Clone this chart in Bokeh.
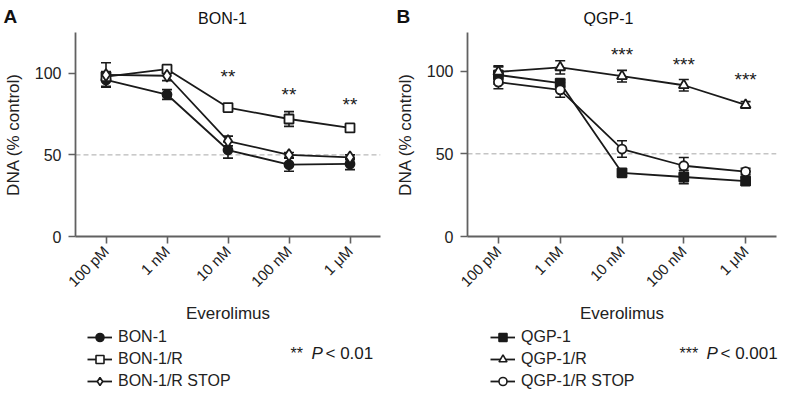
import math
from bokeh.plotting import figure
from bokeh.models import (Range1d, FixedTicker, Whisker, ColumnDataSource, Span,
                          Label, Legend, LegendItem, TeeHead)
from bokeh.layouts import row, column
from bokeh.embed import file_html
from bokeh.resources import INLINE

# ---------------- data ----------------
conc_labels = ["100 pM", "1 nM", "10 nM", "100 nM", "1 μM"]
x_pos = [0, 1, 2, 3, 4]

# Panel A: BON-1
bon1 = [96.0, 87.0, 53.0, 44.0, 44.5]
bon1_err = [4.0, 3.0, 5.0, 4.0, 3.5]
bon1_r = [98.0, 102.5, 79.0, 72.0, 66.5]
bon1_r_err = [3.0, 2.0, 2.0, 4.5, 1.5]
bon1_r_stop = [99.0, 98.5, 58.5, 50.0, 48.5]
bon1_r_stop_err = [7.5, 3.0, 3.0, 1.5, 1.5]
stars_a_x = [2, 3, 4]
stars_a_y = [101, 90, 84]

# Panel B: QGP-1
qgp1 = [97.7, 92.8, 38.5, 36.0, 33.5]
qgp1_err = [5.5, 2.0, 1.5, 4.0, 2.5]
qgp1_r = [99.6, 102.3, 97.0, 91.5, 79.6]
qgp1_r_err = [3.0, 4.0, 3.5, 3.5, 2.0]
qgp1_r_stop = [93.4, 88.7, 52.9, 42.8, 39.3]
qgp1_r_stop_err = [4.0, 4.5, 5.0, 5.0, 2.0]
stars_b_x = [2, 3, 4]
stars_b_y = [113, 107, 98]

FONT = "Liberation Sans"
INK = "#1a1a1a"
AXIS = "#616161"
TOTAL_W = 778
HEAD_H = 26
MAIN_H = 299
FOOT_H = 64

series_a = [("BON-1", bon1, bon1_err, "circle", True, 9),
            ("BON-1/R", bon1_r, bon1_r_err, "square", False, 9),
            ("BON-1/R STOP", bon1_r_stop, bon1_r_stop_err, "diamond", False, 12)]
series_b = [("QGP-1", qgp1, qgp1_err, "square", True, 9),
            ("QGP-1/R", qgp1_r, qgp1_r_err, "triangle", False, 10),
            ("QGP-1/R STOP", qgp1_r_stop, qgp1_r_stop_err, "circle", False, 9)]


def add_series(p, ys, errs, marker, filled, size):
    src = ColumnDataSource(dict(
        x=x_pos, y=ys,
        upper=[v + e for v, e in zip(ys, errs)],
        lower=[v - e for v, e in zip(ys, errs)]))
    w = Whisker(source=src, base="x", upper="upper", lower="lower",
                line_color=INK, line_width=1.6, level="underlay",
                upper_head=TeeHead(size=10, line_color=INK, line_width=1.6),
                lower_head=TeeHead(size=10, line_color=INK, line_width=1.6))
    p.add_layout(w)
    p.line("x", "y", source=src, line_color=INK, line_width=1.8)
    p.scatter("x", "y", source=src, marker=marker, size=size,
              line_color=INK, line_width=1.8,
              fill_color=INK if filled else "white")


def make_panel(width, left, right, top, ymax, series, stars_x, stars_y,
               star_txt, label_standoff):
    p = figure(width=width, height=MAIN_H, x_range=Range1d(-0.5, 4.5),
               y_range=Range1d(0, ymax), min_border_left=left,
               min_border_right=right, min_border_top=top,
               min_border_bottom=MAIN_H - 211, toolbar_location=None,
               output_backend="svg")
    p.outline_line_color = None
    p.xgrid.grid_line_color = None
    p.ygrid.grid_line_color = None

    p.add_layout(Span(location=50, dimension="width", line_color="#a8a8a8",
                      line_dash="5 3", line_width=1, level="underlay"))

    for name, ys, errs, marker, filled, size in series:
        add_series(p, ys, errs, marker, filled, size)

    for ax in (p.xaxis[0], p.yaxis[0]):
        ax.axis_line_color = AXIS
        ax.axis_line_width = 1.8
        ax.major_tick_line_color = AXIS
        ax.major_tick_line_width = 1.6
        ax.major_tick_out = 7
        ax.major_tick_in = 0
        ax.minor_tick_line_color = None
        ax.major_label_text_font = FONT
        ax.major_label_text_color = "#222222"
        ax.axis_label_text_font = FONT
        ax.axis_label_text_font_style = "normal"
        ax.axis_label_text_color = "#222222"
    p.xaxis.ticker = FixedTicker(ticks=x_pos)
    p.xaxis.major_label_overrides = {i: lab for i, lab in zip(x_pos, conc_labels)}
    p.xaxis.major_label_orientation = math.pi / 4
    p.xaxis.major_label_text_font_size = "15px"
    p.xaxis.major_label_standoff = 5
    p.xaxis.axis_label = "Everolimus"
    p.xaxis.axis_label_text_font_size = "17px"
    p.xaxis.axis_label_standoff = 5
    p.yaxis.ticker = FixedTicker(ticks=[0, 50, 100])
    p.yaxis.major_label_text_font_size = "16px"
    p.yaxis.major_label_standoff = 7
    p.yaxis.axis_label = "DNA (% control)"
    p.yaxis.axis_label_text_font_size = "17px"
    p.yaxis.axis_label_standoff = label_standoff

    for sx, sy in zip(stars_x, stars_y):
        p.add_layout(Label(x=sx, y=sy - 3, text=star_txt, text_align="center",
                           text_baseline="middle", text_font=FONT,
                           text_font_size="19px", text_color=INK))
    return p


def blank(height, yrange):
    f = figure(width=TOTAL_W, height=height, x_range=Range1d(0, TOTAL_W),
               y_range=Range1d(*yrange), min_border=0, toolbar_location=None,
               x_axis_location=None, y_axis_location=None, output_backend="svg")
    f.outline_line_color = None
    f.xgrid.grid_line_color = None
    f.ygrid.grid_line_color = None
    return f


# ---------------- header: panel letters and titles ----------------
head = blank(HEAD_H, (HEAD_H, 0))
for txt, x, y, align, size, style in [("A", 3, 5, "left", "19px", "bold"),
                                      ("BON-1", 222, 18, "center", "16px", "normal"),
                                      ("B", 396, 5, "left", "19px", "bold"),
                                      ("QGP-1", 608, 18, "center", "16px", "normal")]:
    head.add_layout(Label(x=x, y=y, text=txt, text_align=align,
                          text_baseline="top" if style == "bold" else "middle",
                          text_font=FONT, text_font_size=size,
                          text_font_style=style, text_color="#111111"))

# ---------------- main panels ----------------
pa = make_panel(392, 68, 12, 6, 125, series_a, stars_a_x, stars_a_y, "**", 9)
pb = make_panel(386, 74, 2, 0, 123.4, series_b, stars_b_x, stars_b_y, "***", 9)

# ---------------- footer: legends and p-values ----------------
foot = blank(FOOT_H, (FOOT_H, 0))


def footer_legend(series, x0):
    items = []
    for name, ys, errs, marker, filled, size in series:
        # legend-only renderers: their points lie outside the visible area
        ln = foot.line(x=[-500, -400], y=[-500, -500], line_color=INK,
                       line_width=1.8)
        sc = foot.scatter(x=[-500], y=[-500], marker=marker, size=size - 2,
                          line_color=INK, line_width=1.6,
                          fill_color=INK if filled else "white")
        items.append(LegendItem(label=name, renderers=[ln, sc]))
    lg = Legend(items=items, location=(x0, -2), orientation="vertical",
                padding=0, margin=0, spacing=2, glyph_width=25,
                glyph_height=20, label_height=20, label_standoff=6,
                label_text_font=FONT, label_text_font_size="16px",
                label_text_color="#222222", border_line_color=None,
                background_fill_alpha=0)
    foot.add_layout(lg, "center")


footer_legend(series_a, 87)
footer_legend(series_b, 490)

for txt, x, size, style in [("**", 290, "16px", "normal"),
                            ("P", 311, "17px", "italic"),
                            ("< 0.01", 325, "17px", "normal"),
                            ("***", 679, "16px", "normal"),
                            ("P", 706, "17px", "italic"),
                            ("< 0.001", 720, "17px", "normal")]:
    foot.add_layout(Label(x=x, y=28, text=txt, text_align="left",
                          text_baseline="middle", text_font=FONT,
                          text_font_size=size, text_font_style=style,
                          text_color=INK))

layout = column(head, row(pa, pb), foot)
open("out.html", "w").write(file_html(layout, INLINE))
